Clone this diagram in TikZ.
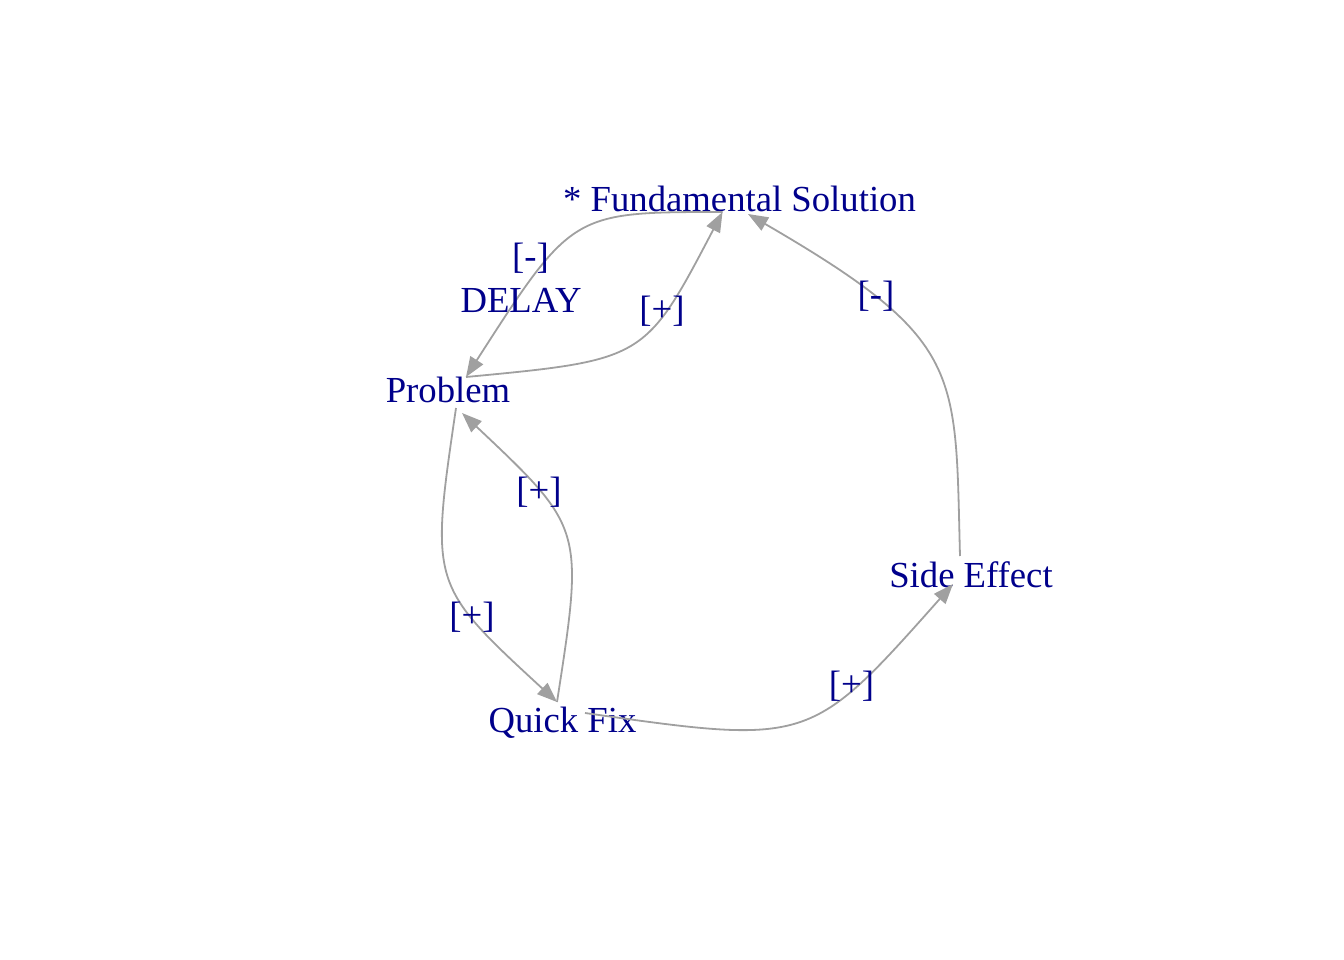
\documentclass[tikz,border=0pt]{standalone}
\usepackage{fontspec}
\setmainfont{Liberation Serif}
\usetikzlibrary{arrows.meta}
\definecolor{lblcol}{HTML}{00008B}
\definecolor{edgecol}{HTML}{A0A0A0}
\tikzset{
  vlabel/.style={inner sep=0pt, anchor=base, text=lblcol, font=\fontsize{36.7pt}{42pt}\selectfont},
  elabel/.style={inner sep=0pt, anchor=base, text=lblcol, font=\fontsize{36.7pt}{42pt}\selectfont},
  edge/.style={draw=edgecol, line width=1.8pt, -{Triangle[length=20pt,width=15pt]}}
}
\begin{document}
\begin{tikzpicture}[x=1pt,y=-1pt]
\path[use as bounding box] (0,0) rectangle (1344,960);
% vertices (labels)
\node[vlabel] (fs) at (739.5,212) {* Fundamental Solution};
\node[vlabel] (pr) at (448,402) {Problem};
\node[vlabel] (qf) at (562.5,732) {Quick Fix};
\node[vlabel] (se) at (971,587) {Side Effect};
% edges
\draw[edge] ([shift={(-17,0)}]fs.base) .. controls (572,212) and (572,212) .. ([shift={(18,-25)}]pr.base);
\draw[edge] ([shift={(18,-25)}]pr.base) .. controls (645,360) and (645,360) .. ([shift={(-17,0)}]fs.base);
\draw[edge] ([shift={(-11,-31)}]se.base) .. controls (955,370) and (965,340) .. ([shift={(8.5,2)}]fs.base);
\draw[edge] ([shift={(8,6)}]pr.base) .. controls (430,585) and (430,585) .. ([shift={(-5.5,-30)}]qf.base);
\draw[edge] ([shift={(-5.5,-30)}]qf.base) .. controls (584,528) and (584,528) .. ([shift={(14,11)}]pr.base);
\draw[edge] ([shift={(22.5,-19)}]qf.base) .. controls (810,745) and (810,745) .. ([shift={(-18,-3)}]se.base);
% edge labels
\node[elabel] (l1a) at (530.5,268) {[-]};
\node[elabel] (l1b) at (521,312) {DELAY};
\node[elabel] (l2) at (662,321) {[+]};
\node[elabel] (l3) at (876,306) {[-]};
\node[elabel] (l4) at (539,502) {[+]};
\node[elabel] (l5) at (472,627) {[+]};
\node[elabel] (l6) at (851.5,696) {[+]};
\end{tikzpicture}
\end{document}
